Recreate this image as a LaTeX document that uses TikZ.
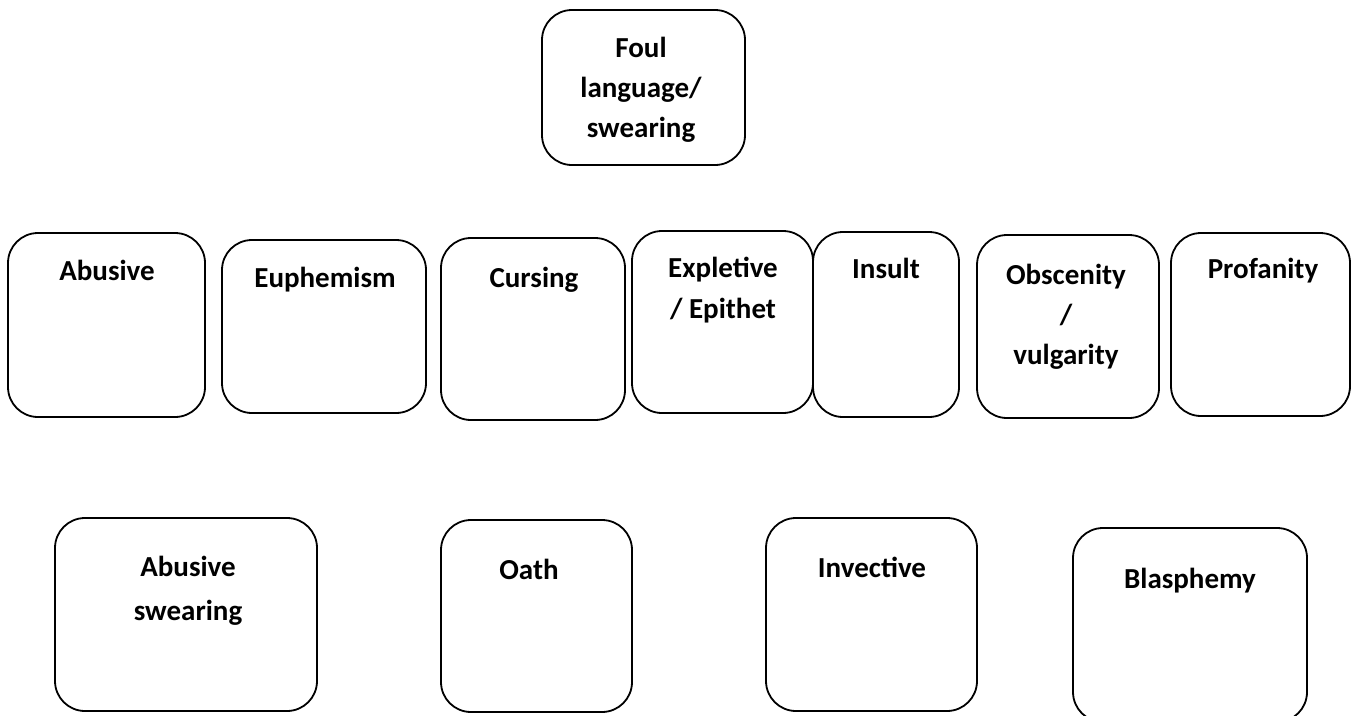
\documentclass[tikz,border=0pt]{standalone}
\usepackage{fontspec}
\setmainfont{Carlito}
\begin{document}
\begin{tikzpicture}[x=1pt,y=-1pt,
  box/.style={draw=black,line width=1.8pt,rounded corners=30pt},
  lbl/.style={anchor=base,inner sep=0pt,align=center,font=\fontsize{29}{40}\selectfont\bfseries}]
\useasboundingbox (0,0) rectangle (1356,715);
% boxes
\draw[box] (542,10) rectangle (745,165);
\draw[box] (8,233) rectangle (205,417);
\draw[box] (222,240) rectangle (426,413);
\draw[box] (441,238) rectangle (625,420);
\draw[box] (632,231) rectangle (813,413);
\draw[box] (813,232) rectangle (959,417);
\draw[box] (977,235) rectangle (1159,418);
\draw[box] (1171,233) rectangle (1350,416);
\draw[box] (55,518) rectangle (317,711);
\draw[box] (441,520) rectangle (632,712);
\draw[box] (766,518) rectangle (977,711);
\draw[box] (1073,528) rectangle (1307,722);
% labels (multi-line labels: base = baseline of last line)
\node[lbl] (tfoul) at (641,137) {Foul\\language/\\swearing};
\node[lbl] (tabu) at (107,280) {Abusive};
\node[lbl] (teup) at (325,287) {Euphemism};
\node[lbl] (tcur) at (534,287) {Cursing};
\node[lbl,font=\fontsize{29}{41}\selectfont\bfseries] (texp) at (723,318) {Expletive\\/ Epithet};
\node[lbl] (tins) at (886,278) {Insult};
\node[lbl] (tobs) at (1066,364) {Obscenity\\/\\vulgarity};
\node[lbl] (tpro) at (1263,278) {Profanity};
\node[lbl,font=\fontsize{29}{44}\selectfont\bfseries] (tabs) at (188,620) {Abusive\\swearing};
\node[lbl] (toat) at (529,579) {Oath};
\node[lbl] (tinv) at (872,577) {Invective};
\node[lbl] (tbla) at (1190,588) {Blasphemy};
\end{tikzpicture}
\end{document}
